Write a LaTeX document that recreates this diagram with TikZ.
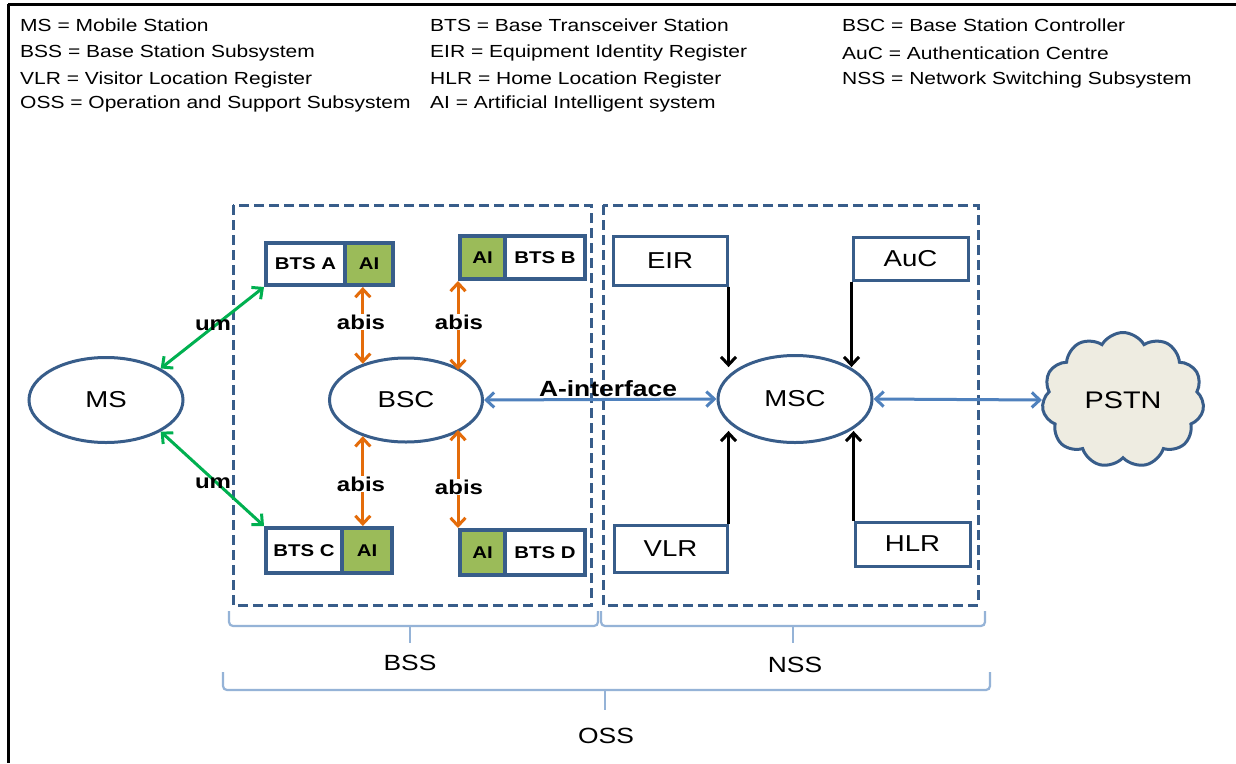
\documentclass[tikz,border=0pt]{standalone}
\usepackage{fontspec}
\setmainfont[FakeStretch=1.2]{Liberation Sans}
\usetikzlibrary{arrows.meta,shapes.geometric,shapes.symbols}
\definecolor{dkblue}{HTML}{385D8A}
\definecolor{grn}{HTML}{00B050}
\definecolor{org}{HTML}{E46C0A}
\definecolor{lblue}{HTML}{4F81BD}
\definecolor{aigreen}{HTML}{9BBB59}
\definecolor{cloudfill}{HTML}{EEECE1}
\definecolor{bracec}{HTML}{95B3D7}
\newcommand\myfs[1]{\fontsize{#1}{#1}\selectfont}
\begin{document}
\begin{tikzpicture}[x=1pt,y=-1pt,
  legend/.style={anchor=west, inner sep=0pt, font=\myfs{17.5}},
  ell/.style={ellipse, draw=dkblue, line width=3pt, fill=white, font=\myfs{23}, inner sep=0pt},
  regbox/.style={rectangle, draw=dkblue, line width=3pt, fill=white, font=\myfs{23}, inner sep=0pt},
  btsw/.style={rectangle, draw=dkblue, line width=4pt, fill=white, font=\bfseries\myfs{17}, inner sep=0pt},
  aib/.style={btsw, fill=aigreen},
  dbox/.style={draw=dkblue, line width=3pt, dash pattern=on 10pt off 5pt},
  garr/.style={draw=grn, line width=3pt, {Straight Barb[length=8pt,width=15pt]}-{Straight Barb[length=8pt,width=15pt]}},
  oarr/.style={draw=org, line width=3pt, {Straight Barb[length=8pt,width=15pt]}-{Straight Barb[length=8pt,width=15pt]}},
  barr/.style={draw=lblue, line width=3pt, {Straight Barb[length=8pt,width=15pt]}-{Straight Barb[length=8pt,width=15pt]}},
  karr/.style={draw=black, line width=3pt, -{Straight Barb[length=8pt,width=15pt]}},
  lbl/.style={font=\bfseries\myfs{20}, inner sep=1pt},
  brc/.style={draw=bracec, line width=2.2pt, rounded corners=4pt},
  brlbl/.style={font=\myfs{22}, inner sep=0pt}]
\useasboundingbox (0,0) rectangle (1236,763);
\fill[white] (0,0) rectangle (1236,763);
% frame
\draw[black, line width=3pt] (8,4) -- (1236,4);
\draw[black, line width=3pt] (8,4) -- (8,763);

% legend
\node[legend] (l1) at (20,25) {MS = Mobile Station};
\node[legend] (l2) at (20,53) {BSS = Base Station Subsystem};
\node[legend] (l3) at (20,80) {VLR = Visitor Location Register};
\node[legend] (l4) at (20,104) {OSS = Operation and Support Subsystem};
\node[legend] (l5) at (430,25) {BTS = Base Transceiver Station};
\node[legend] (l6) at (430,53) {EIR = Equipment Identity Register};
\node[legend] (l7) at (430,80) {HLR = Home Location Register};
\node[legend] (l8) at (430,104) {AI = Artificial Intelligent system};
\node[legend] (l9) at (842,25) {BSC = Base Station Controller};
\node[legend] (l10) at (842,53) {AuC = Authentication Centre};
\node[legend] (l11) at (842,80) {NSS = Network Switching Subsystem};

% dashed subsystem boxes
\draw[dbox] (233,205) rectangle (591,605);
\draw[dbox] (603,205) rectangle (978,605);

% main nodes
\node[ell, minimum width=154pt, minimum height=85pt] (ms) at (106,400) {MS};
\node[ell, minimum width=153pt, minimum height=84pt] (bsc) at (406,400) {BSC};
\node[ell, minimum width=154pt, minimum height=87pt] (msc) at (795,399) {MSC};
\node[cloud, cloud puffs=11, cloud puff arc=120, aspect=1.15, draw=dkblue, line width=3pt,
      fill=cloudfill, minimum width=162pt, minimum height=135pt, font=\myfs{24}, inner sep=0pt]
      (pstn) at (1123,400) {PSTN};

% BTS boxes
\node[btsw, minimum width=79pt, minimum height=42pt] (btsA) at (305.5,264) {BTS A};
\node[aib, minimum width=48pt, minimum height=42pt] (aiA) at (369,264) {AI};
\node[aib, minimum width=45pt, minimum height=43pt] (aiB) at (482.5,257.5) {AI};
\node[btsw, minimum width=80pt, minimum height=43pt] (btsB) at (545,257.5) {BTS B};
\node[btsw, minimum width=76pt, minimum height=45pt] (btsC) at (304,550.5) {BTS C};
\node[aib, minimum width=50pt, minimum height=45pt] (aiC) at (367,550.5) {AI};
\node[aib, minimum width=45pt, minimum height=45pt] (aiD) at (482.5,552.5) {AI};
\node[btsw, minimum width=80pt, minimum height=45pt] (btsD) at (545,552.5) {BTS D};

% NSS registers
\node[regbox, minimum width=114pt, minimum height=49pt] (eir) at (670,260.5) {EIR};
\node[regbox, minimum width=115pt, minimum height=43pt] (auc) at (910.5,258.5) {AuC};
\node[regbox, minimum width=113pt, minimum height=47pt] (vlr) at (670.5,548.5) {VLR};
\node[regbox, minimum width=115pt, minimum height=44pt] (hlr) at (912.5,544) {HLR};

% um links
\draw[garr] (ms.30) -- (btsA.south west);
\draw[garr] (ms.-30) -- (btsC.north west);
\node[lbl] (um1) at (213,325) {um};
\node[lbl] (um2) at (213,483) {um};

% abis links
\draw[oarr] (bsc.140 |- aiA.south) -- (bsc.140);
\draw[oarr] (aiB.south west) -- (aiB.south west |- bsc.28);
\draw[oarr] (bsc.-140) -- (bsc.-140 |- aiC.north);
\draw[oarr] (bsc.-28 -| aiD.north west) -- (aiD.north west);
\node[lbl, fill=white] (ab1) at (361,322) {abis};
\node[lbl, fill=white] (ab2) at (459,322) {abis};
\node[lbl, fill=white] (ab3) at (361,484) {abis};
\node[lbl, fill=white] (ab4) at (459,487) {abis};

% A-interface and PSTN
\draw[barr] (bsc.east) -- (msc.west);
\node[font=\bfseries\myfs{22}, inner sep=0pt] (aif) at (608,389) {A-interface};
\draw[barr] (msc.east) -- (pstn.west);

% register links
\draw[karr] (eir.south east) -- (eir.south east |- msc.150);
\draw[karr] (auc.south west) -- (auc.south west |- msc.30);
\draw[karr] (vlr.north east) -- (vlr.north east |- msc.-150);
\draw[karr] (hlr.north west) -- (hlr.north west |- msc.-30);

% braces
\draw[brc] (229,611) -- (229,626) -- (598,626) -- (598,611);
\draw[brc] (410,626) -- (410,643);
\node[brlbl] (bss) at (410,663) {BSS};
\draw[brc] (601,611) -- (601,626) -- (985,626) -- (985,611);
\draw[brc] (793,626) -- (793,643);
\node[brlbl] (nss) at (795,665) {NSS};
\draw[brc] (223,672) -- (223,690) -- (990,690) -- (990,672);
\draw[brc] (605,690) -- (605,710);
\node[brlbl] (oss) at (606,736) {OSS};
\end{tikzpicture}
\end{document}
